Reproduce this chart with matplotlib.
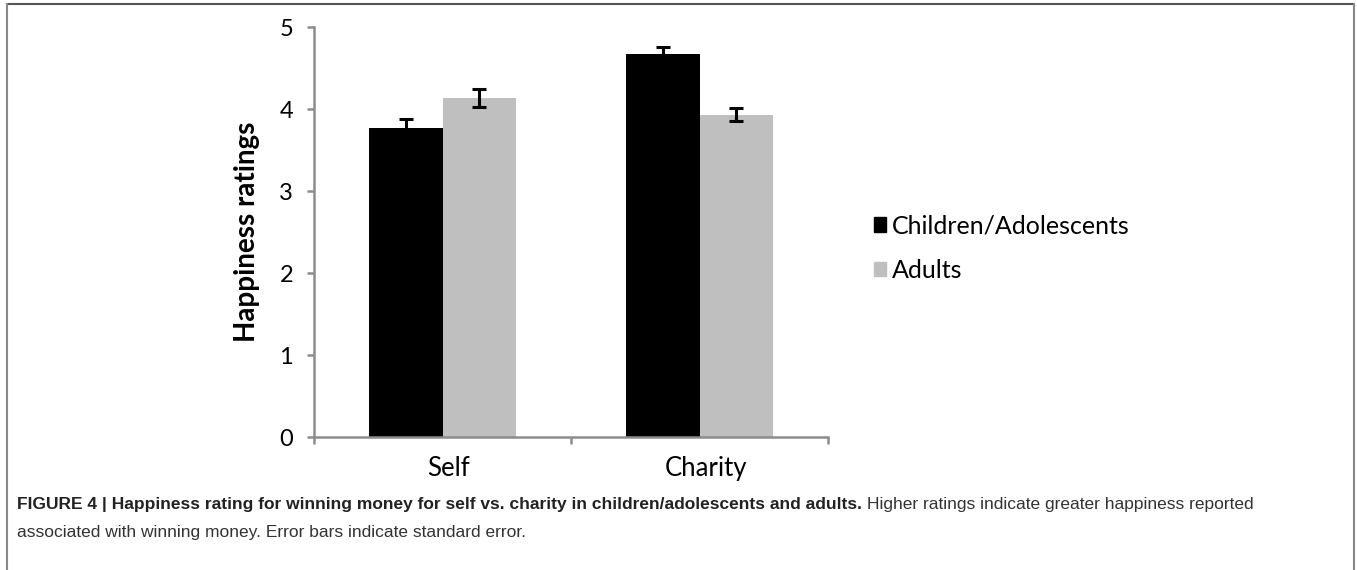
import matplotlib
matplotlib.use('Agg')
import matplotlib.pyplot as plt
from matplotlib.patches import Patch
import numpy as np

# Data
groups = ['Self', 'Charity']
series = ['Children/Adolescents', 'Adults']
children = [3.77, 4.67]
adults = [4.13, 3.93]
children_se = [0.11, 0.09]
adults_se = [0.11, 0.08]
colors = ['#000000', '#bfbfbf']

W, H = 1357, 570
fig = plt.figure(figsize=(W / 100, H / 100), dpi=100)

chart_font = ['Lato', 'DejaVu Sans']
spine_col = '#8c8c8c'

# axes placed in pixel coordinates
left, right, top, bottom = 314, 828, 27, 437
ax = fig.add_axes([left / W, 1 - bottom / H, (right - left) / W, (bottom - top) / H])

x = np.arange(len(groups))
bw = 0.285
ax.bar(x - bw / 2, children, bw, color=colors[0], zorder=2)
ax.bar(x + bw / 2, adults, bw, color=colors[1], zorder=2)
for vals, errs, off in [(children, children_se, -bw / 2), (adults, adults_se, bw / 2)]:
    ax.errorbar(x + off, vals, yerr=errs, fmt='none', ecolor='black',
                elinewidth=2.2, capsize=4.7, capthick=2.2, zorder=3)

ax.set_xlim(-0.5, 1.5)
ax.set_ylim(0, 5)
ax.set_yticks(range(6))
ax.set_xticks(x + 0.025)
ax.set_xticklabels(groups, fontsize=18.5, family=chart_font)
ax.set_xticks([-0.5, 0.5, 1.5], minor=True)
ax.tick_params(axis='x', which='major', length=0, pad=14)
ax.tick_params(axis='x', which='minor', length=5, width=1.8, color=spine_col)
ax.tick_params(axis='y', length=5, width=1.8, color=spine_col, labelsize=17, pad=10)
for lbl in ax.get_yticklabels():
    lbl.set_family(chart_font)
for s in ['top', 'right']:
    ax.spines[s].set_visible(False)
for s in ['left', 'bottom']:
    ax.spines[s].set_color(spine_col)
    ax.spines[s].set_linewidth(1.8)
ax.set_ylabel('Happiness ratings', fontsize=20, fontweight='bold', family=chart_font, labelpad=14)

handles = [Patch(color=c) for c in colors]
fig.legend(handles, series, loc='center left', bbox_to_anchor=(851 / W, 1 - 248 / H),
           frameon=False, prop={'family': chart_font, 'size': 18},
           handlelength=0.5, handleheight=0.5, handletextpad=0.25, labelspacing=0.85)

# frame around the figure panel
fig.add_artist(plt.Line2D([7 / W, 1354 / W], [1 - 4 / H, 1 - 4 / H], color='#555555', lw=1.5))
fig.add_artist(plt.Line2D([7 / W, 7 / W], [0, 1 - 4 / H], color='#888888', lw=1.5))
fig.add_artist(plt.Line2D([1354 / W, 1354 / W], [0, 1 - 4 / H], color='#888888', lw=1.5))

# caption
cap_font = ['Liberation Sans Narrow', 'Liberation Sans', 'DejaVu Sans']
t1 = fig.text(17 / W, 1 - 509 / H,
              'FIGURE 4 | Happiness rating for winning money for self vs. charity in children/adolescents and adults.',
              fontsize=12.5, fontweight='bold', family=cap_font, color='#222222', va='baseline')
fig.canvas.draw()
bb = t1.get_window_extent()
fig.text(bb.x1 / W + 5 / W, 1 - 509 / H,
         'Higher ratings indicate greater happiness reported',
         fontsize=12.5, family=cap_font, color='#333333', va='baseline')
fig.text(17 / W, 1 - 537 / H,
         'associated with winning money. Error bars indicate standard error.',
         fontsize=12.5, family=cap_font, color='#333333', va='baseline')

fig.savefig('out.png', dpi=100)
